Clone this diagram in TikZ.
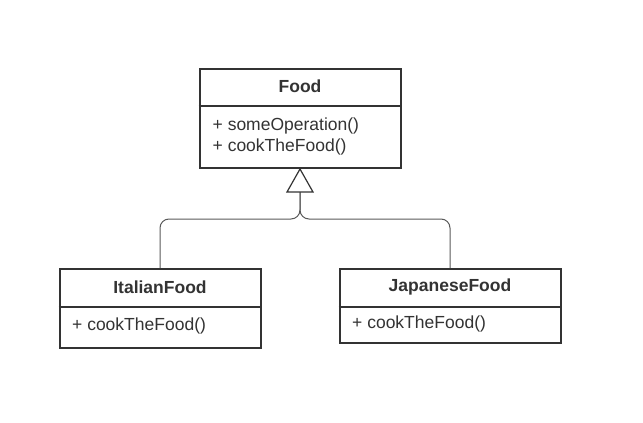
\documentclass[tikz,border=0pt]{standalone}
\usepackage{fontspec}
\setmainfont{Liberation Sans}
\definecolor{ink}{HTML}{333333}
\begin{document}
\begin{tikzpicture}[x=1pt,y=-1pt,
  box/.style={draw=ink, line width=2pt, fill=white, inner sep=0pt},
  title/.style={font=\bfseries\fontsize{17.5}{20}\selectfont, text=ink},
  meth/.style={font=\fontsize{17.5}{20}\selectfont, text=ink, anchor=west, inner sep=0pt},
  conn/.style={draw=black!65, line width=1pt, rounded corners=9pt},
  tri/.style={draw=ink, line width=1.2pt, fill=white, line join=miter}]
\useasboundingbox (0,0) rectangle (643,423);
% Food
\node[box, minimum width=201pt, minimum height=99pt] (food) at (300,118.5) {};
\draw[ink, line width=2pt] (food.west |- 0,105.5) -- (food.east |- 0,105.5);
\node[title] (foodt) at (300,86) {Food};
\node[meth] (m1) at (212.5,126) {+ someOperation()};
\node[meth] (m2) at (212.5,147) {+ cookTheFood()};
% Italian
\node[box, minimum width=201pt, minimum height=79pt] (ital) at (160,308.5) {};
\draw[ink, line width=2pt] (ital.west |- 0,306.5) -- (ital.east |- 0,306.5);
\node[title] (italt) at (160,287) {ItalianFood};
\node[meth] (m3) at (72,326) {+ cookTheFood()};
% Japanese
\node[box, minimum width=221pt, minimum height=74pt] (jap) at (450,306) {};
\draw[ink, line width=2pt] (jap.west |- 0,306.5) -- (jap.east |- 0,306.5);
\node[title] (japt) at (450,287) {JapaneseFood};
\node[meth] (m4) at (352,324) {+ cookTheFood()};
% connectors
\coordinate (tb) at (300,192);
\draw[conn] (tb) -- ++(0,27) -| (ital.north);
\draw[conn] (tb) -- ++(0,27) -| (jap.north);
\draw[tri] (food.south) -- (313,192) -- (287,192) -- cycle;
\end{tikzpicture}
\end{document}
